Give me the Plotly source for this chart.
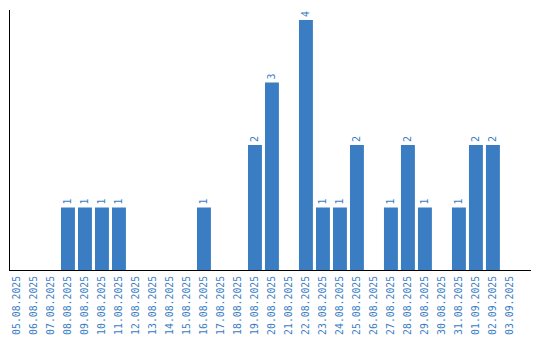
import plotly.graph_objects as go

dates = ["05.08.2025","06.08.2025","07.08.2025","08.08.2025","09.08.2025","10.08.2025",
         "11.08.2025","12.08.2025","13.08.2025","14.08.2025","15.08.2025","16.08.2025",
         "17.08.2025","18.08.2025","19.08.2025","20.08.2025","21.08.2025","22.08.2025",
         "23.08.2025","24.08.2025","25.08.2025","26.08.2025","27.08.2025","28.08.2025",
         "29.08.2025","30.08.2025","31.08.2025","01.09.2025","02.09.2025","03.09.2025"]
counts = [0,0,0,1,1,1,1,0,0,0,0,1,0,0,2,3,0,4,1,1,2,0,1,2,1,0,1,2,2,0]

blue = "#3a7dc3"
labels = [str(c) if c > 0 else "" for c in counts]

fig = go.Figure(go.Bar(
    x=list(range(len(dates))), y=counts, marker_color=blue, marker_line_width=0,
    width=0.82, text=labels, textposition="outside", textangle=-90,
    textfont=dict(family="DejaVu Sans Mono", size=10, color=blue), cliponaxis=False,
))
fig.update_layout(
    width=540, height=340, margin=dict(l=10, r=9, t=10, b=70),
    paper_bgcolor="white", plot_bgcolor="white", showlegend=False,
    xaxis=dict(tickmode="array", tickvals=list(range(len(dates))), ticktext=dates,
               tickangle=-90, tickfont=dict(family="DejaVu Sans Mono", size=9.8, color=blue),
               range=[-0.41, 30.24], showline=True, linecolor="black", linewidth=1,
               showgrid=False, zeroline=False, ticks="", automargin=False,
               ticklabelstandoff=1),
    yaxis=dict(range=[0, 4.16], showticklabels=False, showline=True, linecolor="black",
               linewidth=1, showgrid=False, zeroline=False, ticks="", automargin=False),
)
fig.write_html("out.html")
